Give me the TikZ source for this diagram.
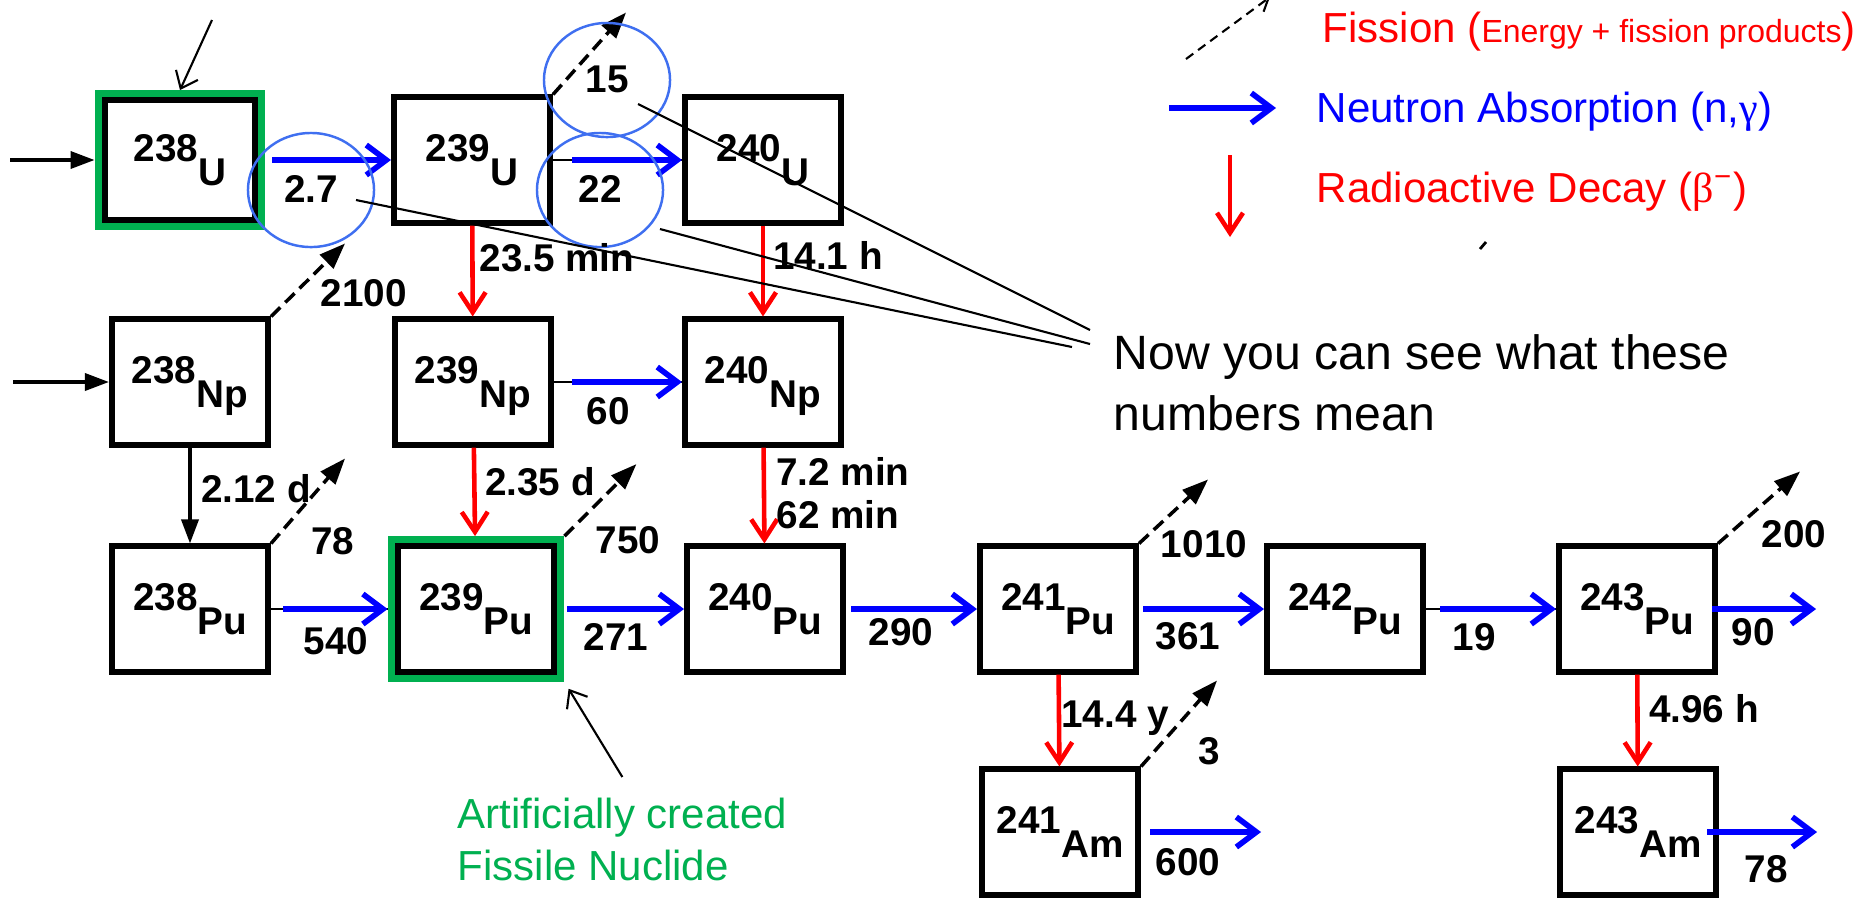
\documentclass[tikz,border=0pt]{standalone}
\usepackage{fontspec}
\setmainfont{Liberation Sans}
\newfontfamily\grkfont{Liberation Serif}
\usetikzlibrary{positioning,shapes.geometric,arrows.meta,calc,fit}
\definecolor{capblue}{HTML}{0000FF}
\definecolor{decayred}{HTML}{FF0000}
\definecolor{fissgreen}{HTML}{00B050}
\definecolor{ringblue}{HTML}{3F6FF0}
\newcommand{\nucfont}{\bfseries\fontsize{11}{12}\selectfont}
\newcommand{\legfont}{\fontsize{11.95}{14}\selectfont}
\newcommand{\nuc}[2]{#1\raisebox{-0.62em}{#2}}

\begin{document}
\begin{tikzpicture}[x=0.01cm, y=-0.01cm,
    nuclide/.style={draw, line width=1.7pt, minimum width=1.56cm, minimum height=1.25cm,
      inner sep=0pt, font=\nucfont, text height=0.72em, text depth=0.62em},
    frame/.style={draw=fissgreen, line width=2.1pt, inner sep=1.05pt},
    numlbl/.style={font=\nucfont, inner sep=0pt, text height=0.72em, text depth=0pt},
    ring/.style={ellipse, draw=ringblue, line width=0.7pt, inner sep=0pt,
      minimum width=1.26cm, minimum height=1.14cm, font=\nucfont,
      text height=0.72em, text depth=0pt},
    capture/.style={capblue, line width=1.6pt, -{Straight Barb[length=0.2cm, width=0.3cm]}},
    stub/.style={line width=0.8pt},
    decay/.style={decayred, line width=1.3pt, -{Straight Barb[length=0.2cm, width=0.26cm]}},
    feed/.style={line width=1pt, -{Triangle[length=0.24cm, width=0.17cm]}},
    fission/.style={line width=1pt, dash pattern=on 0.13cm off 0.07cm,
      -{Triangle[length=0.26cm, width=0.19cm]}},
    callout/.style={line width=0.6pt},
    pointer/.style={line width=0.6pt, -{Straight Barb[length=0.15cm, width=0.24cm]}},
    legtext/.style={anchor=base west, inner sep=0pt, font=\legfont}]
  \useasboundingbox (0,0) rectangle (1876,899);

  % Uranium row
  \node[nuclide, minimum width=1.5cm, minimum height=1.19cm] (u238) at (180,160) {\nuc{238}{U}};
  \node[frame, fit=(u238)] (fu238) {};
  \node[nuclide] (u239) at (472,160) {\nuc{239}{U}};
  \node[nuclide] (u240) at (763,160) {\nuc{240}{U}};

  % Neptunium row
  \node[nuclide] (np238) at (190,382) {\nuc{238}{Np}};
  \node[nuclide] (np239) at (473,382) {\nuc{239}{Np}};
  \node[nuclide] (np240) at (763,382) {\nuc{240}{Np}};

  % Plutonium row
  \node[nuclide] (pu238) at (190,609) {\nuc{238}{Pu}};
  \node[nuclide] (pu239) at (476,609) {\nuc{239}{Pu}};
  \node[frame, fit=(pu239)] (fpu239) {};
  \node[nuclide] (pu240) at (765,609) {\nuc{240}{Pu}};
  \node[nuclide] (pu241) at (1058,609) {\nuc{241}{Pu}};
  \node[nuclide] (pu242) at (1345,609) {\nuc{242}{Pu}};
  \node[nuclide] (pu243) at (1637,609) {\nuc{243}{Pu}};

  % Americium row
  \node[nuclide] (am241) at (1060,832) {\nuc{241}{Am}};
  \node[nuclide] (am243) at (1638,832) {\nuc{243}{Am}};

  % feeds from outside
  \coordinate (in1) at (10,160);
  \coordinate (in2) at (13,382);
  \draw[feed] (in1) -- (fu238);
  \draw[feed] (in2) -- (np238);
  \draw[feed] (np238) -- (pu238);

  % neutron absorption
  \draw[capture, shorten <=0.07cm] (fu238) -- (u239);
  \draw[stub] (u239) -- (u240);
  \draw[capture, shorten <=0.19cm] (u239) -- (u240);
  \draw[stub] (np239) -- (np240);
  \draw[capture, shorten <=0.18cm] (np239) -- (np240);
  \draw[stub] (pu238) -- (fpu239);
  \draw[capture, shorten <=0.12cm] (pu238) -- (fpu239);
  \draw[capture, shorten <=0.03cm] (fpu239) -- (pu240);
  \draw[capture, shorten <=0.05cm] (pu240) -- (pu241);
  \draw[capture, shorten <=0.04cm] (pu241) -- (pu242);
  \draw[stub] (pu242) -- (pu243);
  \draw[capture, shorten <=0.14cm] (pu242) -- (pu243);
  \draw[capture] ([xshift=-0.06cm]pu243.east) -- ++(104,0);
  \draw[capture] ([xshift=0.09cm]am241.east) -- ++(111,0);
  \draw[capture] ([xshift=-0.12cm]am243.east) -- ++(110,0);

  % beta decay
  \draw[decay] (u239) -- (np239);
  \draw[decay] (u240) -- (np240);
  \draw[decay] (np239) -- (fpu239);
  \draw[decay] (np240) -- (pu240);
  \draw[decay] (pu241) -- (am241);
  \draw[decay] (pu243) -- (am243);

  % fission
  \draw[fission] (np238.north east) -- ++(74,-73);
  \draw[fission] (u239.north east) -- ++(73,-82);
  \draw[fission] (pu238.north east) -- ++(74,-85);
  \draw[fission] (fpu239.north east) -- ++(72,-72);
  \draw[fission] (pu241.north east) -- ++(69,-64);
  \draw[fission] (am241.north east) -- ++(76,-86);
  \draw[fission] (pu243.north east) -- ++(82,-72);

  % numbers
  \node[ring] (r27) at (311,190) {2.7};
  \node[ring] (r15) at (607,80) {15};
  \node[ring] (r22) at (600,190) {22};
  \node[numlbl] (l2100) at (364,294) {2100};
  \node[numlbl] (l235m) at (557,259) {23.5 min};
  \node[numlbl] (l141h) at (828,257) {14.1 h};
  \node[numlbl] (l60) at (608,412) {60};
  \node[numlbl] (l212d) at (256,490) {2.12 d};
  \node[numlbl] (l78a) at (333,542) {78};
  \node[numlbl] (l235d) at (540,483) {2.35 d};
  \node[numlbl] (l750) at (628,541) {750};
  \node[numlbl] (l72m) at (843,473) {7.2 min};
  \node[numlbl] (l62m) at (838,516) {62 min};
  \node[numlbl] (l540) at (336,642) {540};
  \node[numlbl] (l271) at (616,638) {271};
  \node[numlbl] (l290) at (901,633) {290};
  \node[numlbl] (l1010) at (1204,545) {1010};
  \node[numlbl] (l361) at (1188,637) {361};
  \node[numlbl] (l19) at (1474,638) {19};
  \node[numlbl] (l200) at (1794,535) {200};
  \node[numlbl] (l90) at (1753,633) {90};
  \node[numlbl] (l144y) at (1115,715) {14.4 y};
  \node[numlbl] (l3) at (1209,752) {3};
  \node[numlbl] (l496h) at (1704,710) {4.96 h};
  \node[numlbl] (l600) at (1188,863) {600};
  \node[numlbl] (l78b) at (1766,870) {78};

  % what the numbers mean
  \node[anchor=north west, inner sep=0pt, align=left,
        font=\fontsize{13.7}{17.4}\selectfont] (note) at (1113,334)
        {Now you can see what these\\numbers mean};
  \coordinate (e27) at (1072,347);
  \coordinate (e22) at (1090,344);
  \coordinate (e15) at (1090,330);
  \draw[callout] ($(r27)+(45,10)$) -- (e27);
  \draw[callout] ($(r22)+(60,39)$) -- (e22);
  \draw[callout] ($(r15)+(31,24)$) -- (e15);

  % fissile pointers
  \coordinate (ptrtop) at (212,20);
  \draw[pointer] (ptrtop) -- (fu238.north);
  \node[anchor=north west, inner sep=0pt, align=left, text=fissgreen,
        font=\fontsize{11.95}{14.8}\selectfont] (artnote) at (457,797)
        {Artificially created\\Fissile Nuclide};
  \draw[pointer, shorten >=0.08cm] ($(artnote.north)+(0,-20)$) -- (fpu239.south east);

  % legend
  \coordinate (lf0) at (1186,59);
  \coordinate (lc0) at (1169,108);
  \coordinate (ld0) at (1230,155);
  \draw[line width=0.6pt, dash pattern=on 0.09cm off 0.06cm,
        -{Straight Barb[length=0.12cm, width=0.16cm]}] (lf0) -- ++(84,-62);
  \draw[capture] (lc0) -- ++(107,0);
  \draw[decay] (ld0) -- ++(0,82);
  \node[legtext, text=decayred] (lfis) at (1322,42)
        {Fission ({\fontsize{9.1}{11}\selectfont Energy + fission products})};
  \node[legtext, text=capblue] (lcap) at (1316,122)
        {Neutron Absorption (n,{\grkfont γ})};
  \node[legtext, text=decayred] (ldec) at (1316,202)
        {Radioactive Decay ({\grkfont β}\textsuperscript{−})};
  \draw[line width=0.8pt] (1480,249) -- (1486,242);
\end{tikzpicture}
\end{document}
